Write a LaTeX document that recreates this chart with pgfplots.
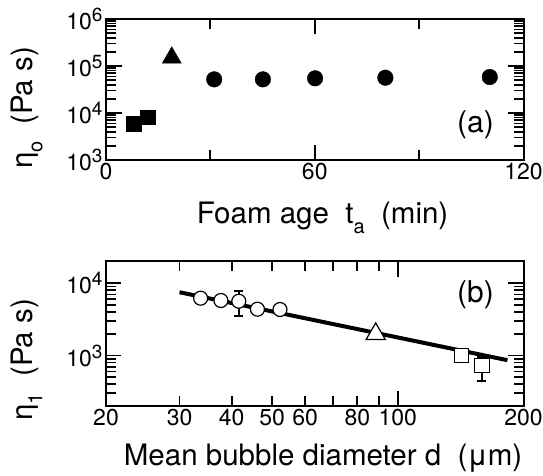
\documentclass[border=0pt]{standalone}
\usepackage{pgfplots}
\pgfplotsset{compat=1.18}
\usepackage{fontspec}
\setmainfont{TeX Gyre Heros}
\newcommand{\tenp}[1]{10\raisebox{8pt}{\fontsize{19}{19}\selectfont #1}}
\begin{document}
\begin{tikzpicture}
\useasboundingbox (0,0) rectangle (543pt,476pt);
\pgfplotsset{
 myaxis/.style={
  scale only axis, anchor=south west, width=417.5pt,
  axis line style={line width=2pt},
  tick style={black, line width=1.8pt},
  major tick length=15.5pt, minor tick length=10pt,
  tick align=inside,
  xtick pos=both, ytick pos=both,
  ticklabel style={font=\fontsize{23}{27}\selectfont},
  label style={font=\fontsize{29.5}{34}\selectfont},
  clip=false,
 }
}
\begin{axis}[myaxis, at={(106pt,316pt)}, height=141pt,
  xmin=0, xmax=120, ymode=log, ymin=1e3, ymax=1e6,
  xtick={0,60,120}, xticklabels={0,60,120}, minor xtick={30,90},
  ytick={1e3,1e4,1e5,1e6}, yticklabels={\tenp{3},\tenp{4},\tenp{5},\tenp{6}},
  minor ytick={2000,3000,4000,5000,6000,7000,8000,9000,20000,30000,40000,50000,60000,70000,80000,90000,200000,300000,400000,500000,600000,700000,800000,900000},
  xlabel={Foam age\ \ t\raisebox{-10pt}{\fontsize{20}{20}\selectfont a}\ \ (min)},
  xlabel style={at={(axis description cs:0.5186,-0.447)}, anchor=base},
  ylabel={η\raisebox{-10pt}{\fontsize{20}{20}\selectfont o}\ \ (Pa s)},
  ylabel style={at={(axis description cs:-0.19,0.37)}, anchor=center},
]
\addplot[only marks, mark=square*, mark size=7.3pt, mark options={fill=black}] coordinates {(7.9,5840) (12.0,8090)};
\addplot[only marks, mark=triangle*, mark size=11pt, mark options={fill=black}] coordinates {(18.9,1.5e5)};
\addplot[only marks, mark=*, mark size=7.8pt, mark options={fill=black}] coordinates {(31.1,5.2e4) (45.1,5.2e4) (60.1,5.47e4) (80.3,5.63e4) (110.3,5.83e4)};
\node[font=\fontsize{30}{34}\selectfont] at (axis description cs:0.885,0.25) {(a)};
\end{axis}
\begin{axis}[myaxis, at={(106pt,70pt)}, height=144.5pt,
  xmode=log, xmin=20, xmax=200, ymode=log, ymin=200, ymax=20000,
  xtick={20,100,200}, xticklabels={20,100,200}, minor xtick={},
  extra x ticks={30,40,50,60,70,80,90}, extra x tick labels={30,40,50,60,,80,},
  extra x tick style={major tick length=10pt},
  ytick={1e3,1e4}, yticklabels={\tenp{3},\tenp{4}},
  minor ytick={200,300,400,500,600,700,800,900,2000,3000,4000,5000,6000,7000,8000,9000},
  xlabel={Mean bubble diameter d\ \ (μm)},
  xlabel style={at={(axis description cs:0.52,-0.41)}, anchor=base},
  ylabel={η\raisebox{-10pt}{\fontsize{20}{20}\selectfont 1}\ \ (Pa s)},
  ylabel style={at={(axis description cs:-0.19,0.32)}, anchor=center},
]
\addplot[line width=4pt, no marks] coordinates {(30,7510) (183,861)};
\addplot[only marks, mark=*, mark size=7pt, mark options={fill=white, draw=black, line width=1.2pt},
  error bars/.cd, y dir=both, y explicit, error bar style={line width=2pt}, error mark options={line width=2pt, mark size=4.5pt, rotate=90}]
  coordinates {(33.7,6210) (37.7,5770) (41.6,5640) += (0,2100) -= (0,2070) (46.1,4370) (52.2,4330)};
\addplot[only marks, mark=triangle*, mark size=11pt, mark options={fill=white, draw=black, line width=1.2pt}] coordinates {(88.5,1990)};
\addplot[only marks, mark=square*, mark size=7.3pt, mark options={fill=white, draw=black, line width=1.2pt},
  error bars/.cd, y dir=both, y explicit, error bar style={line width=2pt}, error mark options={line width=2pt, mark size=4.5pt, rotate=90}]
  coordinates {(142,1000) (159,728) += (0,230) -= (0,283)};
\node[font=\fontsize{30}{34}\selectfont] at (axis description cs:0.885,0.77) {(b)};
\end{axis}
\end{tikzpicture}
\end{document}
